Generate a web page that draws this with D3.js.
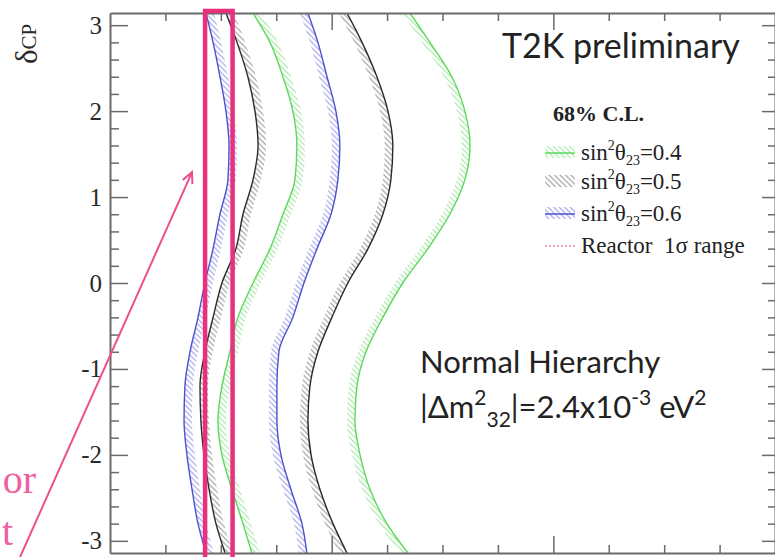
<!DOCTYPE html>
<html><head><meta charset="utf-8">
<script src="https://cdn.jsdelivr.net/npm/d3@7"></script>
<style>body{margin:0;background:#fff}svg{display:block}</style>
</head><body>
<svg id="chart" width="775" height="557"></svg>
<script>
// ---------------- data ----------------
const deltaGrid = [-3.1416,-2.8,-2.4,-2.0,-1.6,-1.2,-0.8,-0.4,0,0.4,0.8,1.2,1.6,2.0,2.4,2.8,3.1416];
// x values (sin^2 2theta13) of 68% C.L. contour boundaries
const greenLeft  = [0.0640,0.0600,0.0550,0.0505,0.0487,0.0505,0.0541,0.0577,0.0645,0.0722,0.0780,0.0834,0.0843,0.0825,0.0780,0.0722,0.0645];
const greenRight = [0.1344,0.1249,0.1173,0.1128,0.1105,0.1114,0.1155,0.1231,0.1321,0.1434,0.1533,0.1601,0.1624,0.1601,0.1542,0.1443,0.1353];
const blackLeft  = [0.0519,0.0478,0.0447,0.0424,0.0410,0.0406,0.0428,0.0465,0.0505,0.0568,0.0600,0.0645,0.0668,0.0654,0.0622,0.0573,0.0523];
const blackRight = [0.1069,0.1006,0.0947,0.0907,0.0893,0.0902,0.0938,0.1001,0.1073,0.1164,0.1231,0.1267,0.1276,0.1254,0.1204,0.1137,0.1069];
const blueLeft   = [0.0433,0.0397,0.0370,0.0347,0.0334,0.0338,0.0361,0.0397,0.0428,0.0465,0.0496,0.0532,0.0537,0.0523,0.0496,0.0465,0.0433];
const blueRight  = [0.0888,0.0866,0.0816,0.0771,0.0753,0.0753,0.0762,0.0825,0.0875,0.0934,0.0997,0.1028,0.1037,0.1019,0.0979,0.0938,0.0893];
const reactorRange = [0.0429, 0.0553];
const yMajorTicks = [-3,-2,-1,0,1,2,3];
const yMinorTicks = d3.range(-3.0, 3.01, 0.2).map(v=>+v.toFixed(1)).filter(v=>!yMajorTicks.includes(v));
const xMajorTicks = [0.1, 0.2];
const xMinorTicks = [0.025,0.05,0.075,0.125,0.15,0.175,0.225,0.25,0.275];
const legendLabels = ["0.4","0.5","0.6"];
const arrowFrom = [-0.0406, -3.19];
const arrowTo = [0.037, 1.29];

// ---------------- setup ----------------
const svg = d3.select("#chart");
const x = d3.scaleLinear().domain([0, 0.3]).range([110, 775]);
const y = d3.scaleLinear().domain([-Math.PI, Math.PI]).range([553, 13]);

const defs = svg.append("defs");
function hatch(id, color){
  const p = defs.append("pattern").attr("id", id).attr("patternUnits","userSpaceOnUse")
    .attr("width", 5.5).attr("height", 5.5);
  p.append("path").attr("d","M-1,-1 L6.5,6.5 M-1,4.5 L1,6.5 M4.5,-1 L6.5,1").attr("stroke", color).attr("stroke-width", 1.1);
}
hatch("hGreen", "#9be69b");
hatch("hBlack", "#939393");
hatch("hBlue",  "#9a9ae4");

defs.append("clipPath").attr("id","plotClip").append("rect")
  .attr("x", x(0)).attr("y", y(Math.PI)).attr("width", x(0.3)-x(0)).attr("height", y(-Math.PI)-y(Math.PI));

const plot = svg.append("g").attr("clip-path","url(#plotClip)");

const series = [
  {vals: greenLeft,  side: 1,  line: "#5cd95c", pat: "hGreen"},
  {vals: greenRight, side: -1, line: "#5cd95c", pat: "hGreen"},
  {vals: blackLeft,  side: 1,  line: "#2a2a2a", pat: "hBlack"},
  {vals: blackRight, side: -1, line: "#2a2a2a", pat: "hBlack"},
  {vals: blueLeft,   side: 1,  line: "#4f4fd2", pat: "hBlue"},
  {vals: blueRight,  side: -1, line: "#4f4fd2", pat: "hBlue"}
];
const band = 8;
series.forEach(s => {
  const pts = deltaGrid.map((d,i)=>({d, v: s.vals[i]}));
  const area = d3.area().curve(d3.curveMonotoneY)
    .y(p=>y(p.d)).x0(p=>x(p.v)).x1(p=>x(p.v)+s.side*band);
  plot.append("path").attr("d", area(pts)).attr("fill", `url(#${s.pat})`);
});
series.forEach(s => {
  const pts = deltaGrid.map((d,i)=>({d, v: s.vals[i]}));
  const line = d3.line().curve(d3.curveMonotoneY).x(p=>x(p.v)).y(p=>y(p.d));
  plot.append("path").attr("d", line(pts)).attr("fill","none")
    .attr("stroke", s.line).attr("stroke-width", 1.4);
});

// ---------------- axes ----------------
const axisColor = "#6a6a6a";
function styleAxis(g, keepDomain){
  g.selectAll(".tick line").attr("stroke", axisColor).attr("stroke-width", 1.5);
  if(keepDomain) g.select(".domain").attr("stroke", axisColor).attr("stroke-width", 2);
  else g.select(".domain").remove();
}
const gl = svg.append("g").attr("transform", `translate(${x(0)},0)`)
  .call(d3.axisLeft(y).tickValues(yMajorTicks).tickSize(-18).tickSizeOuter(0).tickPadding(8).tickFormat(d=>String(d)));
styleAxis(gl, true);
gl.selectAll("text").attr("font-family","'Liberation Serif', 'Times New Roman', serif").attr("font-size", 25).attr("fill","#2a2a2a");
const glm = svg.append("g").attr("transform", `translate(${x(0)},0)`)
  .call(d3.axisLeft(y).tickValues(yMinorTicks).tickSize(-9).tickFormat(""));
styleAxis(glm, false);

const gr = svg.append("g").attr("transform", `translate(${x(0.3)},0)`)
  .call(d3.axisRight(y).tickValues(yMajorTicks).tickSize(-13).tickSizeOuter(0).tickFormat(""));
styleAxis(gr, true);
const grm = svg.append("g").attr("transform", `translate(${x(0.3)},0)`)
  .call(d3.axisRight(y).tickValues(yMinorTicks).tickSize(-7).tickFormat(""));
styleAxis(grm, false);

const gt = svg.append("g").attr("transform", `translate(0,${y(Math.PI)})`)
  .call(d3.axisTop(x).tickValues(xMajorTicks).tickSize(-17).tickSizeOuter(0).tickFormat(""));
styleAxis(gt, true);
const gtm = svg.append("g").attr("transform", `translate(0,${y(Math.PI)})`)
  .call(d3.axisTop(x).tickValues(xMinorTicks).tickSize(-8).tickFormat(""));
styleAxis(gtm, false);

const gb = svg.append("g").attr("transform", `translate(0,${y(-Math.PI)})`)
  .call(d3.axisBottom(x).tickValues(xMajorTicks).tickSize(-17).tickSizeOuter(0).tickFormat(""));
styleAxis(gb, true);
const gbm = svg.append("g").attr("transform", `translate(0,${y(-Math.PI)})`)
  .call(d3.axisBottom(x).tickValues(xMinorTicks).tickSize(-8).tickFormat(""));
styleAxis(gbm, false);

// y label
const yl = svg.append("text").attr("transform","translate(37,64) rotate(-90)")
  .attr("font-family","'Liberation Serif', serif").attr("fill","#2a2a2a");
yl.append("tspan").attr("font-size", 31).text("δ");
yl.append("tspan").attr("font-size", 21).attr("dy", -1).text("CP");

// ---------------- reactor box & annotation ----------------
svg.append("rect")
  .attr("x", x(reactorRange[0])).attr("y", y(3.165))
  .attr("width", x(reactorRange[1]) - x(reactorRange[0]))
  .attr("height", y(-3.4) - y(3.165))
  .attr("fill","none").attr("stroke","#e8307c").attr("stroke-width", 4.5);

const ax0 = x(arrowFrom[0]), ay0 = y(arrowFrom[1]), ax1 = x(arrowTo[0]), ay1 = y(arrowTo[1]);
svg.append("line").attr("x1", ax0).attr("y1", ay0).attr("x2", ax1).attr("y2", ay1)
  .attr("stroke","#ec4f8e").attr("stroke-width", 2);
const ang = Math.atan2(ay1-ay0, ax1-ax0);
const hl = 12, ha = 0.45;
svg.append("path")
  .attr("d", `M${ax1-hl*Math.cos(ang-ha)},${ay1-hl*Math.sin(ang-ha)} L${ax1},${ay1} L${ax1-hl*Math.cos(ang+ha)},${ay1-hl*Math.sin(ang+ha)}`)
  .attr("fill","none").attr("stroke","#ec4f8e").attr("stroke-width", 2);

svg.append("text").attr("x", 36).attr("y", 493).attr("text-anchor","end")
  .attr("font-family","'Liberation Serif', serif").attr("font-size", 40).attr("fill","#f0609e").text("or");
svg.append("text").attr("x", 13).attr("y", 545).attr("text-anchor","end")
  .attr("font-family","'Liberation Serif', serif").attr("font-size", 40).attr("fill","#f0609e").text("t");

// ---------------- texts ----------------
svg.append("text").attr("x", 502).attr("y", 58)
  .attr("font-family","Lato, 'Open Sans', sans-serif").attr("font-size", 34).attr("fill","#222")
  .text("T2K preliminary");

const nh = svg.append("g").attr("font-family","Lato, 'Open Sans', sans-serif").attr("fill","#222");
nh.append("text").attr("x", 420).attr("y", 373).attr("font-size", 31).text("Normal Hierarchy");
const t2 = nh.append("text").attr("x", 420).attr("y", 418).attr("font-size", 31);
t2.append("tspan").text("|Δm");
t2.append("tspan").attr("font-size", 21).attr("dy", -13).text("2");
t2.append("tspan").attr("font-size", 21).attr("dx", 0).attr("dy", 22).text("32");
t2.append("tspan").attr("dy", -9).text("|=2.4x10");
t2.append("tspan").attr("font-size", 21).attr("dy", -13).text("-3");
t2.append("tspan").attr("dy", 13).text(" eV");
t2.append("tspan").attr("font-size", 21).attr("dy", -13).text("2");

// ---------------- legend ----------------
const lg = svg.append("g").attr("font-family","'Liberation Serif', 'Times New Roman', serif").attr("fill","#222");
lg.append("text").attr("x", 553).attr("y", 121).attr("font-size", 22).attr("font-weight","bold").text("68% C.L.");
const legendRows = [
  {pat:"hGreen", line:"#5cd95c", yb:160, lab: legendLabels[0]},
  {pat:"hBlack", line:null,      yb:189, lab: legendLabels[1]},
  {pat:"hBlue",  line:"#4f4fd2", yb:221, lab: legendLabels[2]}
];
legendRows.forEach(r => {
  lg.append("rect").attr("x", 545).attr("y", r.yb-14).attr("width", 30).attr("height", 12)
    .attr("fill", `url(#${r.pat})`);
  if(r.line) lg.append("line").attr("x1",545).attr("x2",575).attr("y1", r.yb-7).attr("y2", r.yb-7)
    .attr("stroke", r.line).attr("stroke-width", 1.5);
  const t = lg.append("text").attr("x", 581).attr("y", r.yb).attr("font-size", 23);
  t.append("tspan").text("sin");
  t.append("tspan").attr("font-size", 14).attr("dy", -10).text("2");
  t.append("tspan").attr("dy", 10).text("θ");
  t.append("tspan").attr("font-size", 14).attr("dy", 5).text("23");
  t.append("tspan").attr("dy", -5).text("=" + r.lab);
});
lg.append("line").attr("x1",545).attr("x2",575).attr("y1",246).attr("y2",246)
  .attr("stroke","#e08ab0").attr("stroke-width",1.5).attr("stroke-dasharray","2,2");
lg.append("text").attr("x", 581).attr("y", 253).attr("font-size", 23).attr("xml:space","preserve")
  .text("Reactor  1σ range");
</script>
</body></html>
